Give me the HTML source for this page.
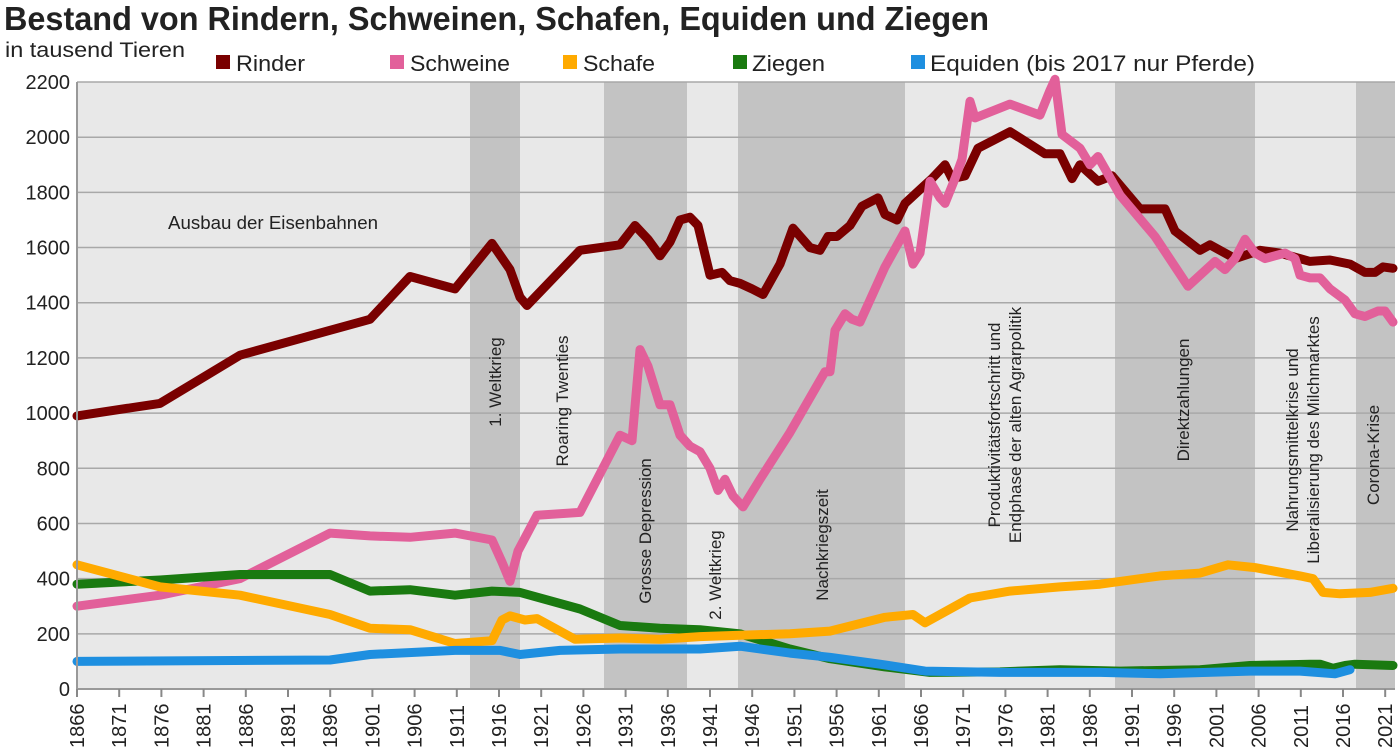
<!DOCTYPE html>
<html><head><meta charset="utf-8"><style>
body{margin:0;background:#fff;width:1400px;height:751px;overflow:hidden}
svg text{font-family:"Liberation Sans Narrow","Liberation Sans",sans-serif;fill:#222}
</style></head><body>
<svg id="s" width="1400" height="751" xmlns="http://www.w3.org/2000/svg">
<text x="4" y="30" font-size="33" font-weight="bold" fill="#111" textLength="985" lengthAdjust="spacingAndGlyphs">Bestand von Rindern, Schweinen, Schafen, Equiden und Ziegen</text>
<text x="5" y="57" font-size="21" textLength="180" lengthAdjust="spacingAndGlyphs">in tausend Tieren</text>
<rect x="216" y="55" width="14" height="14" fill="#7a0000"/><text x="236" y="71" font-size="22" textLength="69" lengthAdjust="spacingAndGlyphs">Rinder</text>
<rect x="390" y="55" width="14" height="14" fill="#e2609a"/><text x="410" y="71" font-size="22" textLength="100" lengthAdjust="spacingAndGlyphs">Schweine</text>
<rect x="563" y="55" width="14" height="14" fill="#ffaa00"/><text x="583" y="71" font-size="22" textLength="72" lengthAdjust="spacingAndGlyphs">Schafe</text>
<rect x="733" y="55" width="14" height="14" fill="#1a7a10"/><text x="752" y="71" font-size="22" textLength="73" lengthAdjust="spacingAndGlyphs">Ziegen</text>
<rect x="911" y="55" width="14" height="14" fill="#1e8fe0"/><text x="930" y="71" font-size="22" textLength="325" lengthAdjust="spacingAndGlyphs">Equiden (bis 2017 nur Pferde)</text>
<rect x="77" y="82" width="1318" height="607" fill="#e8e8e8"/>
<g fill="#c3c3c3">
<rect x="470" y="82" width="50" height="607"/><rect x="604" y="82" width="83" height="607"/>
<rect x="738" y="82" width="167" height="607"/><rect x="1115" y="82" width="140" height="607"/>
<rect x="1356" y="82" width="39" height="607"/></g>
<g id="grid" stroke="#a8a8a8" stroke-width="1.5"></g>
<g id="ylab" font-size="20" text-anchor="end"></g>
<g id="xlab" font-size="20"></g>
<text x="168" y="229" font-size="18" textLength="210" lengthAdjust="spacingAndGlyphs">Ausbau der Eisenbahnen</text>
<g font-size="17" text-anchor="middle">
<text transform="translate(501,382) rotate(-90)">1. Weltkrieg</text>
<text transform="translate(568,401) rotate(-90)">Roaring Twenties</text>
<text transform="translate(651,531) rotate(-90)">Grosse Depression</text>
<text transform="translate(721,575) rotate(-90)">2. Weltkrieg</text>
<text transform="translate(828,545) rotate(-90)">Nachkriegszeit</text>
<text transform="translate(1000,425) rotate(-90)">Produktivitätsfortschritt und</text>
<text transform="translate(1021,425) rotate(-90)">Endphase der alten Agrarpolitik</text>
<text transform="translate(1189,400) rotate(-90)">Direktzahlungen</text>
<text transform="translate(1298,440) rotate(-90)">Nahrungsmittelkrise und</text>
<text transform="translate(1319,440) rotate(-90)">Liberalisierung des Milchmarktes</text>
<text transform="translate(1379,455) rotate(-90)">Corona-Krise</text>
</g>
<g id="lines" fill="none" stroke-width="9" stroke-linejoin="round" stroke-linecap="round"></g>
<line x1="77" y1="82" x2="77" y2="689" stroke="#999" stroke-width="2"/>
<line x1="77" y1="689" x2="1395" y2="689" stroke="#999" stroke-width="2"/>
<g id="ticks" stroke="#888" stroke-width="2"></g>
</svg>
<script>
var NS="http://www.w3.org/2000/svg";
function el(p,t,a,txt){var e=document.createElementNS(NS,t);for(var k in a)e.setAttribute(k,a[k]);if(txt)e.textContent=txt;document.getElementById(p).appendChild(e);}
function Y(v){return 689-v*0.2759;}
for(var v=0;v<=2200;v+=200){if(v>0)el("grid","line",{x1:77,x2:1395,y1:Y(v),y2:Y(v)});el("ylab","text",{x:70,y:Y(v)+7},""+v);}
for(var yr=1866;yr<=2021;yr+=5){var x=77+(yr-1866)*8.44;el("ticks","line",{x1:x,x2:x,y1:689,y2:697});el("xlab","text",{transform:"translate("+(x+7)+",748) rotate(-90)"},""+yr);}
var S={
"#7a0000":[77,990,160,1035,240,1210,330,1300,370,1340,410,1495,455,1450,492,1615,510,1520,520,1420,527,1390,580,1590,620,1610,635,1680,648,1630,660,1570,670,1620,680,1700,690,1710,698,1680,710,1500,722,1510,730,1480,740,1470,752,1450,763,1430,780,1540,793,1670,810,1600,820,1590,828,1640,837,1640,850,1680,862,1750,878,1780,885,1720,897,1700,905,1760,920,1810,932,1850,945,1900,952,1850,965,1860,978,1960,1010,2020,1045,1940,1060,1940,1072,1850,1080,1900,1098,1840,1112,1860,1140,1740,1165,1740,1175,1660,1200,1590,1210,1610,1235,1560,1260,1590,1280,1580,1300,1560,1310,1550,1330,1555,1350,1540,1365,1510,1375,1510,1383,1530,1393,1525],
"#e2609a":[77,300,160,340,240,400,330,565,370,555,410,550,455,565,492,540,502,460,510,390,518,500,537,630,580,640,620,920,632,900,640,1230,648,1170,660,1030,670,1030,680,920,690,880,700,860,710,800,718,720,725,760,733,700,743,660,760,760,790,930,825,1150,830,1150,835,1300,845,1360,852,1340,860,1330,885,1530,905,1660,913,1540,920,1580,930,1840,940,1780,945,1760,955,1850,962,1920,970,2130,975,2070,1010,2120,1040,2080,1050,2170,1055,2210,1062,2010,1080,1960,1090,1900,1098,1930,1120,1790,1155,1640,1188,1460,1200,1500,1215,1550,1225,1520,1235,1560,1245,1630,1255,1580,1265,1560,1275,1570,1285,1580,1295,1560,1300,1500,1310,1490,1320,1490,1330,1450,1345,1410,1355,1360,1365,1350,1378,1370,1385,1370,1393,1330],
"#1a7a10":[77,380,160,395,240,415,330,415,370,355,410,360,455,340,492,355,520,350,580,290,620,230,660,220,700,215,740,200,790,145,830,110,885,80,930,60,1000,62,1060,70,1120,65,1200,70,1250,85,1310,90,1320,90,1333,75,1345,85,1355,90,1393,85],
"#ffaa00":[77,450,160,370,240,340,330,270,370,220,410,215,455,165,492,175,502,250,510,265,525,250,537,255,575,180,620,185,660,180,700,190,740,195,790,200,830,210,885,260,913,270,925,240,970,330,1010,355,1060,370,1100,380,1160,410,1200,420,1228,450,1255,440,1300,410,1313,400,1323,350,1340,345,1370,350,1393,365],
"#1e8fe0":[77,100,330,105,370,125,455,140,500,140,520,125,560,140,620,145,700,145,740,155,790,130,830,115,880,90,925,65,1000,60,1100,60,1160,55,1250,65,1300,65,1335,55,1350,70]};
for(var c in S){var a=S[c],p=[];for(var i=0;i<a.length;i+=2)p.push(a[i]+","+Y(a[i+1]).toFixed(1));el("lines","polyline",{stroke:c,points:p.join(" ")});}
</script>
</body></html>
